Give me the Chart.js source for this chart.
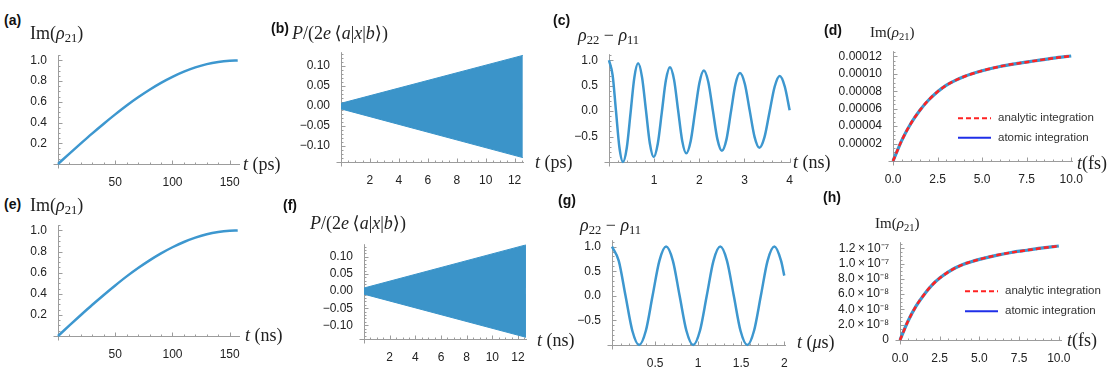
<!DOCTYPE html>
<html>
<head>
<meta charset="utf-8">
<title>Panels a-h</title>
<script src="https://cdn.jsdelivr.net/npm/chart.js"></script>
<style>
  html, body { margin: 0; padding: 0; background: #fff; }
  #fig { position: relative; width: 1112px; height: 371px; overflow: hidden; }
  #fig canvas { position: absolute; }
  .lab { position: absolute; white-space: nowrap; line-height: 1; color: #222; }
  .tag { font: bold 14px 'Liberation Sans', Arial, sans-serif; color: #111; }
  .math { font-family: 'Liberation Serif', 'DejaVu Serif', serif; font-size: 18px; }
  .mathS { font-family: 'Liberation Serif', 'DejaVu Serif', serif; font-size: 15px; }
  .lab sub { font-size: 70%; vertical-align: -0.25em; line-height: 0; }
</style>
</head>
<body>
<div id="fig"></div>
<script>
// (a) and (e): Im(rho21) against t
const aT = [0, 10, 20, 30, 40, 50, 60, 70, 80, 90, 100, 110, 120, 130, 140, 150, 157];
const aV = [0, 0.100, 0.199, 0.296, 0.389, 0.479, 0.565, 0.644, 0.717, 0.783, 0.841, 0.891, 0.932, 0.964, 0.985, 0.997, 1.0];
const eT = [0, 10, 20, 30, 40, 50, 60, 70, 80, 90, 100, 110, 120, 130, 140, 150, 157];
const eV = [0, 0.100, 0.199, 0.296, 0.389, 0.479, 0.565, 0.644, 0.717, 0.783, 0.841, 0.891, 0.932, 0.964, 0.985, 0.997, 1.0];

// (b) and (f): envelope of the fast oscillating polarisation
const bT = [0, 12.57];
const bUpper = [0.007, 0.127];
const bLower = [-0.007, -0.129];
const fT = [0, 12.62];
const fUpper = [0.009, 0.135];
const fLower = [-0.009, -0.135];

// (c): rho22 - rho11, damped
const cT = [0, 0.08, 0.155, 0.23, 0.31, 0.394, 0.478, 0.561, 0.645, 0.731, 0.818, 0.904,
  0.99, 1.08, 1.17, 1.26, 1.35, 1.44, 1.53, 1.62, 1.71, 1.808, 1.905, 2.003,
  2.10, 2.20, 2.30, 2.40, 2.50, 2.60, 2.70, 2.80, 2.90, 3.008, 3.115, 3.223,
  3.33, 3.443, 3.555, 3.668, 3.78, 3.89, 4.0];
const cV = [1.0, 0.71, 0.0, -0.71, -1.0, -0.72, -0.03, 0.66, 0.94, 0.67, 0.02, -0.63,
  -0.90, -0.64, -0.02, 0.61, 0.865, 0.62, 0.02, -0.58, -0.83, -0.59, -0.015, 0.56,
  0.80, 0.57, 0.01, -0.55, -0.78, -0.56, -0.015, 0.53, 0.75, 0.535, 0.015, -0.505,
  -0.72, -0.51, -0.015, 0.48, 0.69, 0.49, 0.02];

// (g): rho22 - rho11, undamped
const gT = [0, 0.0785, 0.157, 0.236, 0.314, 0.393, 0.471, 0.550, 0.628, 0.707, 0.785, 0.864, 0.942,
  1.021, 1.100, 1.178, 1.257, 1.335, 1.414, 1.492, 1.571, 1.649, 1.728, 1.806, 1.885, 1.963, 2.0];
const gV = [1, 0.71, 0, -0.71, -1, -0.71, 0, 0.71, 1, 0.71, 0, -0.71, -1,
  -0.71, 0, 0.71, 1, 0.71, 0, -0.71, -1, -0.71, 0, 0.71, 1, 0.71, 0.41];

// (d) and (h): analytic vs atomic integration
const dT = [0, 0.5, 1, 1.5, 2, 2.5, 3, 3.5, 4, 5, 6, 7, 8, 9, 10];
const dAnalytic = [0, 2.4e-5, 4.3e-5, 5.8e-5, 7.0e-5, 7.95e-5, 8.7e-5, 9.25e-5, 9.7e-5, 1.035e-4, 1.085e-4, 1.12e-4, 1.15e-4, 1.18e-4, 1.205e-4];
const dAtomic = [0, 2.4e-5, 4.3e-5, 5.8e-5, 7.0e-5, 7.95e-5, 8.7e-5, 9.25e-5, 9.7e-5, 1.035e-4, 1.085e-4, 1.12e-4, 1.15e-4, 1.18e-4, 1.205e-4];
const hT = [0, 0.5, 1, 1.5, 2, 2.5, 3, 3.5, 4, 5, 6, 7, 8, 9, 10];
const hAnalytic = [0, 2.45e-8, 4.4e-8, 5.9e-8, 7.15e-8, 8.1e-8, 8.85e-8, 9.45e-8, 9.9e-8, 1.055e-7, 1.105e-7, 1.145e-7, 1.175e-7, 1.205e-7, 1.23e-7];
const hAtomic = [0, 2.45e-8, 4.4e-8, 5.9e-8, 7.15e-8, 8.1e-8, 8.85e-8, 9.45e-8, 9.9e-8, 1.055e-7, 1.105e-7, 1.145e-7, 1.175e-7, 1.205e-7, 1.23e-7];

// tick values and labels
const abXTicks = [50, 100, 150];
const abXLabels = ['50', '100', '150'];
const aeYTicks = [0.2, 0.4, 0.6, 0.8, 1.0];
const aeYLabels = ['0.2', '0.4', '0.6', '0.8', '1.0'];
const bfXTicks = [2, 4, 6, 8, 10, 12];
const bfXLabels = ['2', '4', '6', '8', '10', '12'];
const bfYTicks = [-0.10, -0.05, 0, 0.05, 0.10];
const bfYLabels = ['\u22120.10', '\u22120.05', '0.00', '0.05', '0.10'];
const cXTicks = [1, 2, 3, 4];
const cXLabels = ['1', '2', '3', '4'];
const cgYTicks = [-0.5, 0, 0.5, 1.0];
const cgYLabels = ['\u22120.5', '0.0', '0.5', '1.0'];
const gXTicks = [0.5, 1, 1.5, 2];
const gXLabels = ['0.5', '1', '1.5', '2'];
const dhXTicks = [0, 2.5, 5, 7.5, 10];
const dhXLabels = ['0.0', '2.5', '5.0', '7.5', '10.0'];
const dYTicks = [2e-5, 4e-5, 6e-5, 8e-5, 1e-4, 1.2e-4];
const dYLabels = ['0.00002', '0.00004', '0.00006', '0.00008', '0.00010', '0.00012'];
const hYTicks = [0, 2e-8, 4e-8, 6e-8, 8e-8, 1e-7, 1.2e-7];
const hYLabels = ['0', '2.0\u2009\u00d7\u200910\u207b\u2078', '4.0\u2009\u00d7\u200910\u207b\u2078', '6.0\u2009\u00d7\u200910\u207b\u2078',
  '8.0\u2009\u00d7\u200910\u207b\u2078', '1.0\u2009\u00d7\u200910\u207b\u2077', '1.2\u2009\u00d7\u200910\u207b\u2077'];

const BLUE = '#3d97cf';
const WEDGE = '#3b94c9';
const RED = '#ff2222';

Chart.defaults.font.family = "'Liberation Sans', Arial, sans-serif";
Chart.defaults.font.size = 12;
Chart.defaults.color = '#222';

const fig = document.getElementById('fig');

// Mathematica-like axes: lines through the lower left corner, ticks pointing inward
const mmaAxes = {
  id: 'mmaAxes',
  beforeDatasetsDraw(chart, args, o) {
    const { ctx, chartArea: a, scales: { x, y } } = chart;
    const bx = Math.round(a.bottom) + 0.5, lx = Math.round(a.left) + 0.5;
    ctx.save();
    ctx.strokeStyle = '#9c9c9c';
    ctx.lineWidth = 1;
    ctx.beginPath();
    ctx.moveTo(lx - 5, bx); ctx.lineTo(a.right, bx);
    ctx.moveTo(lx, a.top); ctx.lineTo(lx, bx + 4);
    const marks = (sc, step, horiz) => {
      const put = (v, len) => {
        const p = Math.round(sc.getPixelForValue(v)) + 0.5;
        if (horiz) { ctx.moveTo(p, bx); ctx.lineTo(p, bx - len); }
        else { ctx.moveTo(lx, p); ctx.lineTo(lx + len, p); }
      };
      if (step) {
        for (let k = Math.ceil(sc.min / step - 1e-9); k * step <= sc.max + 1e-12; k++) put(k * step, 2);
      }
      sc.ticks.forEach(t => put(t.value, 4));
    };
    marks(x, o.xMinor, true);
    marks(y, o.yMinor, false);
    ctx.stroke();
    ctx.restore();
  }
};

// small legend drawn inside the plot area
const innerLegend = {
  id: 'innerLegend',
  afterDatasetsDraw(chart, args, o) {
    if (!o.items || !o.items.length) return;
    const { ctx, chartArea: a } = chart;
    ctx.save();
    o.items.forEach((it, k) => {
      const ds = chart.data.datasets[it.ds];
      const x = a.left + o.dx, y = a.top + o.dy + k * o.gap;
      ctx.strokeStyle = it.color;
      ctx.lineWidth = 2;
      ctx.setLineDash(it.dash || []);
      ctx.beginPath(); ctx.moveTo(x, y); ctx.lineTo(x + 33, y); ctx.stroke();
      ctx.setLineDash([]);
      ctx.fillStyle = '#333';
      ctx.font = "11.5px 'Liberation Sans', Arial, sans-serif";
      ctx.textBaseline = 'middle';
      ctx.fillText(ds.label, x + 40, y);
    });
    ctx.restore();
  }
};

const pts = (ts, vs) => ts.map((t, i) => ({ x: t, y: vs[i] }));

function curve(ts, vs, extra) {
  return Object.assign({
    data: pts(ts, vs), borderColor: BLUE, borderWidth: 2.5, pointRadius: 0,
    fill: false, cubicInterpolationMode: 'monotone', clip: false
  }, extra || {});
}

function makePanel(box, xs, ys, datasets, legend) {
  const yw = box.yw, xh = 24, pt = 8, pr = box.pr || 8;
  const left = box.l - yw, top = box.t - pt;
  const w = box.r + pr - left, h = box.b + xh - top;
  const cv = document.createElement('canvas');
  cv.width = w; cv.height = h;
  cv.style.left = left + 'px'; cv.style.top = top + 'px';
  cv.style.width = w + 'px'; cv.style.height = h + 'px';
  fig.appendChild(cv);
  const axis = (s, fit) => ({
    type: 'linear', min: s.min, max: s.max,
    grid: { display: false }, border: { display: false },
    afterBuildTicks: sc => { sc.ticks = s.ticks.map(v => ({ value: v })); },
    afterFit: fit,
    ticks: { autoSkip: false, maxRotation: 0, padding: 3, callback: (v, i) => s.labels[i] }
  });
  new Chart(cv, {
    type: 'line',
    data: { datasets },
    options: {
      responsive: false, animation: false,
      layout: { padding: { left: 0, top: pt, right: pr, bottom: 0 } },
      scales: {
        x: axis(xs, sc => { sc.height = xh; }),
        y: axis(ys, sc => { sc.width = yw; })
      },
      plugins: {
        legend: { display: false }, tooltip: { enabled: false },
        mmaAxes: { xMinor: xs.minor, yMinor: ys.minor },
        innerLegend: legend || { items: [] }
      }
    },
    plugins: [mmaAxes, innerLegend]
  });
}

function wedge(ts, up, lo) {
  return [
    { data: pts(ts, up), borderColor: WEDGE, borderWidth: 1, pointRadius: 0, fill: false, tension: 0 },
    { data: pts(ts, lo), borderColor: WEDGE, borderWidth: 1, pointRadius: 0, fill: '-1', backgroundColor: WEDGE, tension: 0 }
  ];
}

// dataset 0 is painted last, so the red dashes go first
function compare(ts, analytic, atomic) {
  return [
    curve(ts, analytic, { label: 'analytic integration', borderColor: RED, borderWidth: 2.5, borderDash: [5, 3] }),
    curve(ts, atomic, { label: 'atomic integration', borderWidth: 3.2 })
  ];
}

// (a)
makePanel({ l: 58, r: 240, t: 53, b: 164, yw: 50 },
  { min: 0, max: 159, ticks: abXTicks, labels: abXLabels, minor: 10 },
  { min: 0, max: 1.05, ticks: aeYTicks, labels: aeYLabels, minor: 0.05 },
  [curve(aT, aV)]);
// (b)
makePanel({ l: 341, r: 524, t: 50, b: 162, yw: 58 },
  { min: 0, max: 12.65, ticks: bfXTicks, labels: bfXLabels, minor: 0.5 },
  { min: -0.14, max: 0.135, ticks: bfYTicks, labels: bfYLabels, minor: 0.01 },
  wedge(bT, bUpper, bLower));
// (c)
makePanel({ l: 609, r: 791, t: 52, b: 162, yw: 48 },
  { min: 0, max: 4.03, ticks: cXTicks, labels: cXLabels, minor: 0.2 },
  { min: -1, max: 1.12, ticks: cgYTicks, labels: cgYLabels, minor: 0.1 },
  [curve(cT, cV)]);
// (d)
makePanel({ l: 893, r: 1073, t: 49, b: 161, yw: 80, pr: 38 },
  { min: 0, max: 10.1, ticks: dhXTicks, labels: dhXLabels, minor: 0.5 },
  { min: 0, max: 1.26e-4, ticks: dYTicks, labels: dYLabels, minor: 5e-6 },
  compare(dT, dAnalytic, dAtomic),
  { dx: 65, dy: 67, gap: 19.5, items: [{ ds: 0, color: RED, dash: [5, 3] }, { ds: 1, color: '#1f2fe8' }] });
// (e)
makePanel({ l: 58, r: 240, t: 223, b: 336, yw: 50 },
  { min: 0, max: 159, ticks: abXTicks, labels: abXLabels, minor: 10 },
  { min: 0, max: 1.05, ticks: aeYTicks, labels: aeYLabels, minor: 0.05 },
  [curve(eT, eV)]);
// (f)
makePanel({ l: 364, r: 527, t: 242, b: 339, yw: 58 },
  { min: 0, max: 12.7, ticks: bfXTicks, labels: bfXLabels, minor: 0.5 },
  { min: -0.14, max: 0.137, ticks: bfYTicks, labels: bfYLabels, minor: 0.01 },
  wedge(fT, fUpper, fLower));
// (g)
makePanel({ l: 612, r: 786, t: 238, b: 345, yw: 48 },
  { min: 0, max: 2.02, ticks: gXTicks, labels: gXLabels, minor: 0.1 },
  { min: -1, max: 1.13, ticks: cgYTicks, labels: cgYLabels, minor: 0.1 },
  [curve(gT, gV)]);
// (h)
makePanel({ l: 900, r: 1062, t: 240, b: 340, yw: 80, pr: 48 },
  { min: 0, max: 10.2, ticks: dhXTicks, labels: dhXLabels, minor: 0.5 },
  { min: 0, max: 1.28e-7, ticks: hYTicks, labels: hYLabels, minor: 5e-9 },
  compare(hT, hAnalytic, hAtomic),
  { dx: 65, dy: 49, gap: 20, items: [{ ds: 0, color: RED, dash: [5, 3] }, { ds: 1, color: '#1f2fe8' }] });

// panel tags and axis titles: [class, html, left, centre y]
const im21 = 'Im(<i>\u03c1</i><sub>21</sub>)';
const pol = '<i>P</i>/(2<i>e</i>\u2009\u27e8<i>a</i>|<i>x</i>|<i>b</i>\u27e9)';
const diff = '<i>\u03c1</i><sub>22</sub> \u2212 <i>\u03c1</i><sub>11</sub>';
const texts = [
  ['tag', '(a)', 4, 20], ['math', im21, 30, 33], ['math', '<i>t</i> (ps)', 243, 164],
  ['tag', '(b)', 271, 28], ['math', pol, 292, 33], ['math', '<i>t</i> (ps)', 535, 162],
  ['tag', '(c)', 553, 20], ['math', diff, 578, 35], ['math', '<i>t</i> (ns)', 793, 162],
  ['tag', '(d)', 824, 30], ['mathS', im21, 870, 32], ['math', '<i>t</i>(fs)', 1077, 163],
  ['tag', '(e)', 4, 204], ['math', im21, 30, 205], ['math', '<i>t</i> (ns)', 245, 335],
  ['tag', '(f)', 283, 205], ['math', pol, 310, 223], ['math', '<i>t</i> (ns)', 537, 340],
  ['tag', '(g)', 558, 200], ['math', diff, 580, 225], ['math', '<i>t</i> (<i>\u03bc</i>s)', 797, 342],
  ['tag', '(h)', 823, 197], ['mathS', im21, 875, 223], ['math', '<i>t</i>(fs)', 1067, 340]
];
texts.forEach(([cls, html, x, y]) => {
  const d = document.createElement('div');
  d.className = 'lab ' + cls;
  d.innerHTML = html;
  fig.appendChild(d);
  d.style.left = x + 'px';
  d.style.top = (y - d.offsetHeight / 2) + 'px';
});
</script>
</body>
</html>
